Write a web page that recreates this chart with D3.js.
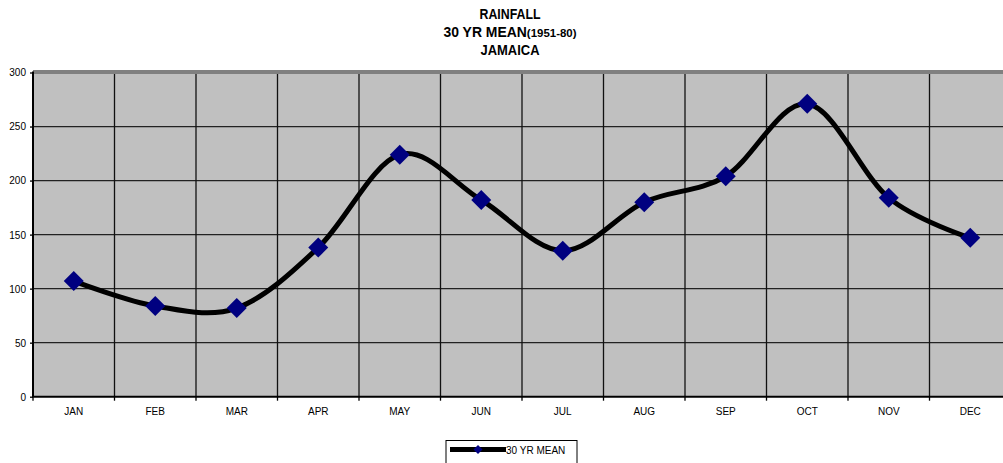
<!DOCTYPE html>
<html>
<head>
<meta charset="utf-8">
<script src="https://cdn.jsdelivr.net/npm/d3@7"></script>
<style>
  html, body { margin: 0; padding: 0; background: #ffffff; }
  svg { display: block; }
</style>
</head>
<body>
<svg id="chart" width="1003" height="463"></svg>
<script>
// Monthly rainfall, 30-year mean (1951-80), Jamaica
const months = ["JAN", "FEB", "MAR", "APR", "MAY", "JUN", "JUL", "AUG", "SEP", "OCT", "NOV", "DEC"];
const rainfall = [107, 84, 82, 138, 224, 182, 135, 180, 204, 271, 184, 147];
const yTicks = [0, 50, 100, 150, 200, 250, 300];
const seriesName = "30 YR MEAN";

const svg = d3.select("#chart");
const W = 1003, H = 463;

const plot = { left: 33, top: 72.5, bottom: 396.7, right: 33 + 12 * 81.5 };

const x = d3.scaleBand().domain(months).range([plot.left, plot.right]).padding(0);
const y = d3.scaleLinear().domain([0, 300]).range([plot.bottom, plot.top]);

const labelFont = "'Liberation Sans', Arial, sans-serif";
const titleFont = "'Liberation Sans Narrow', 'Arial Narrow', 'Liberation Sans', sans-serif";

// Title block (condensed bold)
const title = svg.append("g").attr("font-family", titleFont).attr("font-weight", "bold")
  .attr("font-size", 14).attr("text-anchor", "middle").attr("fill", "#000");
title.append("text").attr("x", 510).attr("y", 18.5)
  .attr("textLength", 61).attr("lengthAdjust", "spacingAndGlyphs").text("RAINFALL");
const t2 = title.append("text").attr("x", 510).attr("y", 36.5)
  .attr("textLength", 133).attr("lengthAdjust", "spacingAndGlyphs");
t2.append("tspan").text("30 YR MEAN");
t2.append("tspan").attr("font-size", 11.5).text("(1951-80)");
title.append("text").attr("x", 510).attr("y", 54.5)
  .attr("textLength", 59).attr("lengthAdjust", "spacingAndGlyphs").text("JAMAICA");

// Plot background
svg.append("rect")
  .attr("x", plot.left).attr("y", plot.top)
  .attr("width", plot.right - plot.left).attr("height", plot.bottom - plot.top)
  .attr("fill", "#c0c0c0");

// Horizontal gridlines
svg.append("g").selectAll("line")
  .data(yTicks.filter(d => d > 0 && d < 300))
  .join("line")
  .attr("x1", plot.left).attr("x2", plot.right)
  .attr("y1", d => y(d)).attr("y2", d => y(d))
  .attr("stroke", "#222").attr("stroke-width", 1.3);

// Vertical gridlines at category boundaries
const bounds = months.slice(1).map(m => x(m));
svg.append("g").selectAll("line")
  .data(bounds)
  .join("line")
  .attr("x1", d => d).attr("x2", d => d)
  .attr("y1", plot.top).attr("y2", plot.bottom)
  .attr("stroke", "#111").attr("stroke-width", 1.3);

// Top border of plot area
svg.append("line")
  .attr("x1", plot.left).attr("x2", W)
  .attr("y1", plot.top - 0.5).attr("y2", plot.top - 0.5)
  .attr("stroke", "#808080").attr("stroke-width", 4);

// Y axis
const yAxis = d3.axisLeft(y).tickValues(yTicks).tickSize(3).tickPadding(4);
const gy = svg.append("g").attr("transform", `translate(${plot.left},0)`).call(yAxis);
gy.select(".domain").attr("stroke", "#000").attr("stroke-width", 2)
  .attr("d", `M0,${plot.top - 1}V${plot.bottom}`);
gy.selectAll(".tick line").attr("stroke", "#000").attr("stroke-width", 1.3);
gy.selectAll(".tick text").attr("font-family", labelFont).attr("font-size", 10)
  .attr("fill", "#000").attr("dy", "0.34em");

// X axis with ticks between categories
const gx = svg.append("g").attr("transform", `translate(0,${plot.bottom})`);
gx.append("line").attr("x1", plot.left - 1).attr("x2", plot.right)
  .attr("y1", 0).attr("y2", 0).attr("stroke", "#000").attr("stroke-width", 2);
gx.selectAll("line.tk").data([plot.left].concat(bounds)).join("line").attr("class", "tk")
  .attr("x1", d => d).attr("x2", d => d).attr("y1", 0).attr("y2", 4)
  .attr("stroke", "#000").attr("stroke-width", 1.3);
gx.selectAll("text").data(months).join("text")
  .attr("x", d => x(d) + x.bandwidth() / 2).attr("y", 18.5)
  .attr("text-anchor", "middle")
  .attr("font-family", labelFont).attr("font-size", 10).attr("fill", "#000")
  .text(d => d);

// Smoothed series line
const line = d3.line()
  .x((d, i) => x(months[i]) + x.bandwidth() / 2)
  .y(d => y(d))
  .curve(d3.curveCardinal.tension(0));
svg.append("path").datum(rainfall)
  .attr("d", line)
  .attr("fill", "none").attr("stroke", "#000").attr("stroke-width", 5)
  .attr("stroke-linejoin", "round");

// Diamond markers
const diamond = d3.symbol().type(d3.symbolSquare).size(200);
svg.append("g").selectAll("path")
  .data(rainfall)
  .join("path")
  .attr("d", diamond)
  .attr("transform", (d, i) => `translate(${x(months[i]) + x.bandwidth() / 2},${y(d)}) rotate(45)`)
  .attr("fill", "#000080");

// Legend
const lg = svg.append("g");
lg.append("rect").attr("x", 446).attr("y", 440.5).attr("width", 131).attr("height", 30)
  .attr("fill", "#fff").attr("stroke", "#000").attr("stroke-width", 1);
lg.append("line").attr("x1", 450).attr("x2", 506).attr("y1", 449.5).attr("y2", 449.5)
  .attr("stroke", "#000").attr("stroke-width", 5);
lg.append("path").attr("d", d3.symbol().type(d3.symbolSquare).size(40))
  .attr("transform", "translate(478,449.5) rotate(45)").attr("fill", "#000080");
lg.append("text").attr("x", 506).attr("y", 453.5)
  .attr("font-family", labelFont).attr("font-size", 10).attr("fill", "#000")
  .text(seriesName);
</script>
</body>
</html>
